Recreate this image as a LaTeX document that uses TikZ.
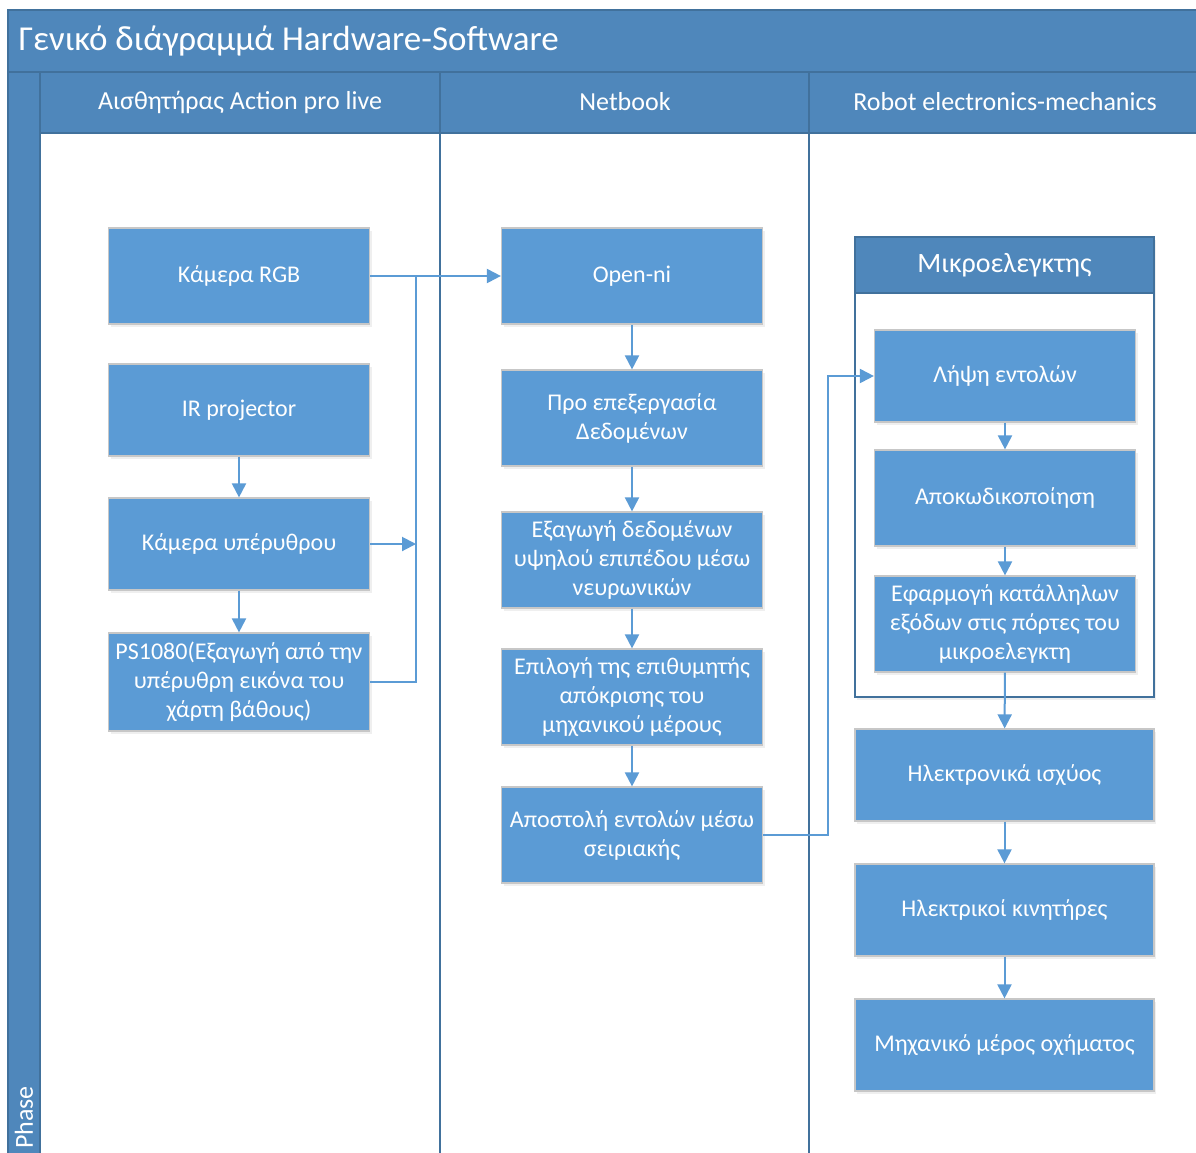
\documentclass[tikz,border=0pt]{standalone}
\usepackage{fontspec}
\setmainfont{Carlito}
\usetikzlibrary{arrows.meta,shadows}
\definecolor{boxblue}{HTML}{5B9BD5}
\definecolor{headblue}{HTML}{4F87BB}
\definecolor{lineblue}{HTML}{41719C}
\tikzset{
  blk/.style={draw=black!22, line width=1.2pt, fill=boxblue, text=white, align=center,
    minimum width=261pt, minimum height=96pt, inner sep=2pt,
    font=\fontsize{24}{29}\selectfont,
    drop shadow={opacity=0.12, shadow xshift=2pt, shadow yshift=-3pt}},
  head/.style={text=white, font=\fontsize{26}{30}\selectfont},
  lane/.style={draw=lineblue, line width=1.5pt},
  arr/.style={draw=boxblue, line width=2pt, -{Triangle[length=14pt,width=14pt]}},
  ln/.style={draw=boxblue, line width=2pt}
}
\begin{document}
\begin{tikzpicture}[x=1pt,y=-1pt]
  \useasboundingbox (0,0) rectangle (1196,1152);
  % pool and lanes
  \fill[white] (0,0) rectangle (1196,1152);
  \fill[headblue] (8,10) rectangle (1200,72);
  \fill[headblue] (8,72) rectangle (40,1160);
  \fill[headblue] (40,72) rectangle (1200,133);
  \draw[lane] (1200,10) -- (8,10) -- (8,1160);
  \draw[lane] (8,72) -- (1200,72);
  \draw[lane] (40,133) -- (1200,133);
  \draw[lane] (40,72) -- (40,1160);
  \draw[lane] (440,72) -- (440,1160);
  \draw[lane] (809,72) -- (809,1160);
  \node[text=white, anchor=west, font=\fontsize{35}{40}\selectfont] (title) at (15,41) {Γενικό διάγραμμά Hardware-Software};
  \node[head, anchor=west, rotate=90, inner sep=1pt] (phase) at (24,1150) {Phase};
  \node[head] (h1) at (240,102) {Αισθητήρας Action pro live};
  \node[head] (h2) at (625,102) {Netbook};
  \node[head] (h3) at (1005,102) {Robot electronics-mechanics};

  % microcontroller container
  \node[draw=lineblue, line width=1.5pt, fill=white, minimum width=299pt, minimum height=460pt,
    drop shadow={opacity=0.12, shadow xshift=2pt, shadow yshift=-3pt}] (mcu) at (1004.5,467) {};
  \node[draw=lineblue, line width=1.5pt, fill=headblue, text=white, minimum width=299pt, minimum height=56pt,
    font=\fontsize{28}{32}\selectfont] (mcuh) at (1004.5,265) {Μικροελεγκτης};

  % sensor lane
  \node[blk] (rgb) at (239,276) {Κάμερα RGB};
  \node[blk, minimum height=92pt] (irp) at (239,410) {IR projector};
  \node[blk, minimum height=92pt] (ircam) at (239,544) {Κάμερα υπέρυθρου};
  \node[blk, minimum height=98pt] (ps) at (239,682) {PS1080(Εξαγωγή από την\\υπέρυθρη εικόνα του\\χάρτη βάθους)};

  % netbook lane
  \node[blk] (openni) at (632,276) {Open-ni};
  \node[blk] (pre) at (632,418) {Προ επεξεργασία\\Δεδομένων};
  \node[blk] (feat) at (632,560) {Εξαγωγή δεδομένων\\υψηλού επιπέδου μέσω\\νευρωνικών};
  \node[blk] (sel) at (632,697) {Επιλογή της επιθυμητής\\απόκρισης του\\μηχανικού μέρους};
  \node[blk] (send) at (632,835) {Αποστολή εντολών μέσω\\σειριακής};

  % robot lane
  \node[blk, minimum height=92pt] (rx) at (1005,376) {Λήψη εντολών};
  \node[blk] (dec) at (1005,498) {Αποκωδικοποίηση};
  \node[blk] (outp) at (1005,624) {Εφαρμογή κατάλληλων\\εξόδων στις πόρτες του\\μικροελεγκτη};
  \node[blk, minimum width=299pt, minimum height=92pt] (pwr) at (1004.5,775) {Ηλεκτρονικά ισχύος};
  \node[blk, minimum width=299pt, minimum height=92pt] (mot) at (1004.5,910) {Ηλεκτρικοί κινητήρες};
  \node[blk, minimum width=299pt, minimum height=92pt] (mech) at (1004.5,1045) {Μηχανικό μέρος οχήματος};

  % connectors
  \coordinate (jn) at (416,276);
  \coordinate (up) at (828,376);
  \draw[arr] (rgb) -- (openni);
  \draw[arr] (ircam) -- (ircam -| jn);
  \draw[ln] (ps) -- (ps -| jn) -- (jn);
  \foreach \a/\b in {irp/ircam, ircam/ps, openni/pre, pre/feat, feat/sel, sel/send, rx/dec, dec/outp, outp/pwr, pwr/mot, mot/mech}
    \draw[arr] (\a) -- (\b);
  \draw[arr] (send) -- (send -| up) -- (up) -- (rx);
\end{tikzpicture}
\end{document}
